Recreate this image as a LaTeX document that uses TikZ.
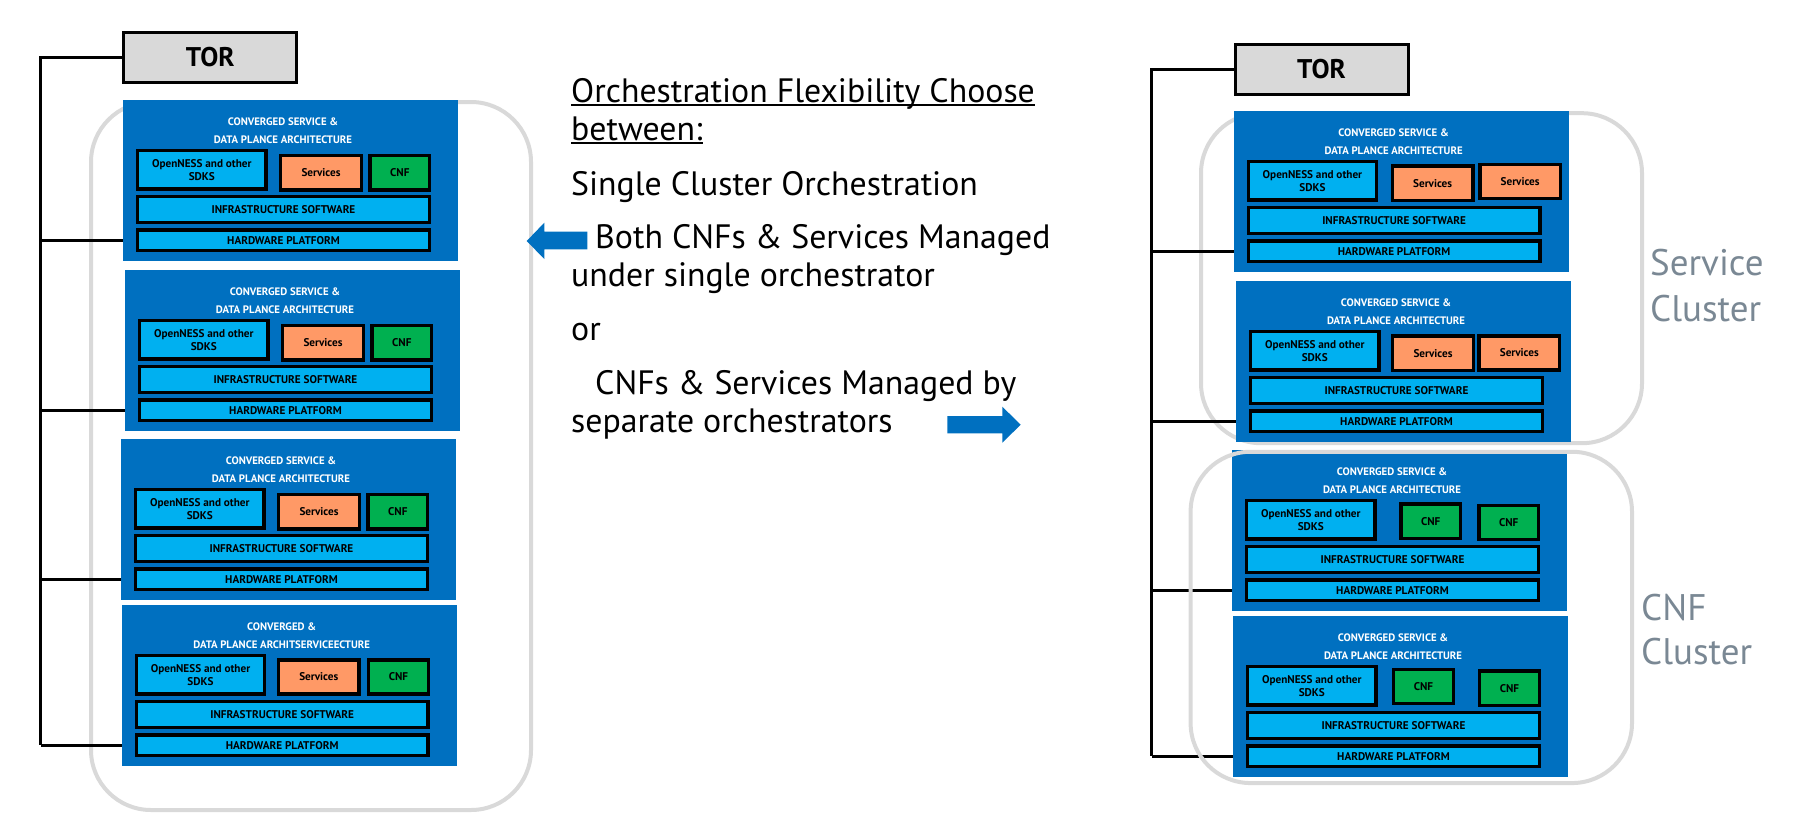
\documentclass[tikz,border=0pt]{standalone}
\usepackage{fontspec}
\setmainfont{PT Sans}
\definecolor{archblue}{HTML}{0070C0}
\definecolor{layerblue}{HTML}{00B0F0}
\definecolor{svcorange}{HTML}{FF9966}
\definecolor{cnfgreen}{HTML}{00B050}
\definecolor{torgray}{HTML}{D9D9D9}
\definecolor{clustergray}{HTML}{D9D9D9}
\definecolor{labelgray}{HTML}{7A8894}
\newcommand{\boxfont}{\bfseries\fontsize{11.2}{12.5}\selectfont}
% one converged service stack, top left corner at (#2,#3)
\newcommand{\srvstack}[5]{%
  \begin{scope}[shift={(#2,#3)}]
    \node[srvbg] (#1) at (0,0) {};%
    \node[srvtitle] (#1t) at (160,21.7) {#4};%
    \node[srvtitle] (#1u) at (160,39.3) {#5};%
    \node[layer, minimum width=128.2, minimum height=38.3] (#1sdk) at (78.8,69.9) {OpenNESS and other\\SDKS};%
    \node[layer, minimum height=25.6] (#1inf) at (160.5,109.5) {INFRASTRUCTURE SOFTWARE};%
    \node[layer, minimum height=20.6] (#1hw) at (160.5,140.3) {HARDWARE PLATFORM};%
  \end{scope}}
\begin{document}
\begin{tikzpicture}[x=1pt, y=-1pt,
    srvbg/.style={anchor=north west, fill=archblue, minimum width=335, minimum height=160.5, inner sep=0pt},
    srvtitle/.style={text=white, inner sep=0pt, font=\bfseries\fontsize{10.8}{12}\selectfont},
    layer/.style={fill=layerblue, draw, line width=3.4, minimum width=291.6, inner sep=0pt, align=center, font=\boxfont},
    svc/.style={fill=svcorange, draw, line width=3.4, minimum width=80.6, minimum height=34.3, inner sep=0pt, font=\boxfont},
    cnf/.style={fill=cnfgreen, draw, line width=3.4, minimum width=59.6, minimum height=34.3, inner sep=0pt, font=\boxfont},
    tor/.style={fill=torgray, draw, line width=3, minimum width=173, minimum height=50, font=\bfseries\fontsize{27}{30}\selectfont},
    cluster/.style={draw=clustergray, line width=4, rounded corners=60, inner sep=0pt},
    wire/.style={line width=2.8},
    say/.style={anchor=base west, inner sep=0pt, font=\fontsize{33.8}{38}\selectfont},
    clabel/.style={anchor=base west, inner sep=0pt, text=labelgray, font=\fontsize{37}{44}\selectfont}]
  \useasboundingbox (0,0) rectangle (1801,827);%

  \node[cluster, minimum width=440, minimum height=708] (LC) at (311,456) {};%
  \node[cluster, minimum width=441, minimum height=330] (SC) at (1421.5,278.2) {};%

  % single cluster
  \node[tor] (TL) at (210.3,57.5) {TOR};%
  \srvstack{L1}{123}{100}{CONVERGED SERVICE \&}{DATA PLANCE ARCHITECTURE}%
  \srvstack{L2}{125}{270}{CONVERGED SERVICE \&}{DATA PLANCE ARCHITECTURE}%
  \srvstack{L3}{121}{439}{CONVERGED SERVICE \&}{DATA PLANCE ARCHITECTURE}%
  \srvstack{L4}{121.7}{605}{CONVERGED \&}{DATA PLANCE ARCHITSERVICEECTURE}%
  \node[svc] (L1s) at (321,172.8) {Services};%
  \node[cnf] (L1c) at (399.8,172.8) {CNF};%
  \node[svc] (L2s) at (323,342.8) {Services};%
  \node[cnf] (L2c) at (401.8,342.8) {CNF};%
  \node[svc] (L3s) at (319,511.8) {Services};%
  \node[cnf] (L3c) at (397.8,511.8) {CNF};%
  \node[svc] (L4s) at (318.8,677) {Services};%
  \node[cnf] (L4c) at (398.5,677) {CNF};%

  \coordinate (BL) at (40.6,57.5);%
  \draw[wire] (TL.west) -- (BL) -- (BL |- L4hw);%
  \draw[wire] (BL |- L1hw) -- (L1.west |- L1hw);%
  \draw[wire] (BL |- L2hw) -- (L2.west |- L2hw);%
  \draw[wire] (BL |- L3hw) -- (L3.west |- L3hw);%
  \draw[wire] (BL |- L4hw) -- (L4.west |- L4hw);%

  % text in the middle
  \node[say] (H1) at (571,102.7) {Orchestration Flexibility Choose};%
  \node[say] (H2) at (571,140) {between:};%
  \draw[line width=2] ([yshift=-2.5pt]H1.base west) -- ([yshift=-2.5pt]H1.base east);%
  \draw[line width=2] ([yshift=-2.5pt]H2.base west) -- ([yshift=-2.5pt]H2.base east);%
  \node[say] (S1) at (571,195) {Single Cluster Orchestration};%
  \node[say] (B1) at (595,248.3) {Both CNFs \& Services Managed};%
  \node[say] (B2) at (571,286.7) {under single orchestrator};%
  \node[say] (O1) at (571,340) {or};%
  \node[say] (C1) at (595,394.3) {CNFs \& Services Managed by};%
  \node[say] (C2) at (571,432.7) {separate orchestrators};%
  \fill[archblue] (526.7,241) -- (544.3,222.7) -- (544.3,231.7) -- (587.3,231.7) -- (587.3,249.3) -- (544.3,249.3) -- (544.3,259) -- cycle;%
  \fill[archblue] (1020.7,424.7) -- (1002.3,406.7) -- (1002.3,416) -- (947.3,416) -- (947.3,433.3) -- (1002.3,433.3) -- (1002.3,442.7) -- cycle;%

  % separate clusters
  \node[tor] (TR) at (1321.5,69.2) {TOR};%
  \srvstack{R1}{1233.6}{111}{CONVERGED SERVICE \&}{DATA PLANCE ARCHITECTURE}%
  \srvstack{R2}{1236}{281}{CONVERGED SERVICE \&}{DATA PLANCE ARCHITECTURE}%
  \srvstack{R3}{1232}{450}{CONVERGED SERVICE \&}{DATA PLANCE ARCHITECTURE}%
  \srvstack{R4}{1233}{616}{CONVERGED SERVICE \&}{DATA PLANCE ARCHITECTURE}%
  \node[svc] (R1s) at (1432.6,183.3) {Services};%
  \node[svc] (R1p) at (1520.1,181.5) {Services};%
  \node[svc] (R2s) at (1433,353.3) {Services};%
  \node[svc] (R2p) at (1519.3,353) {Services};%
  \node[cnf] (R3c) at (1430.7,521.3) {CNF};%
  \node[cnf] (R3d) at (1508.7,522.5) {CNF};%
  \node[cnf] (R4c) at (1423.5,686.5) {CNF};%
  \node[cnf] (R4d) at (1509.5,688.3) {CNF};%

  \coordinate (BR) at (1151.5,69.2);%
  \draw[wire] (TR.west) -- (BR) -- (BR |- R4hw);%
  \draw[wire] (BR |- R1hw) -- (R1.west |- R1hw);%
  \draw[wire] (BR |- R2hw) -- (R2.west |- R2hw);%
  \draw[wire] (BR |- R3hw) -- (R3.west |- R3hw);%
  \draw[wire] (BR |- R4hw) -- (R4.west |- R4hw);%

  \node[cluster, minimum width=441.4, minimum height=331.3] (CC) at (1411.3,617.4) {};%
  \node[clabel] (SC1) at (1650,275) {Service};%
  \node[clabel] (SC2) at (1650,321) {Cluster};%
  \node[clabel] (CC1) at (1641,620) {CNF};%
  \node[clabel] (CC2) at (1641,664) {Cluster};%
\end{tikzpicture}
\end{document}
